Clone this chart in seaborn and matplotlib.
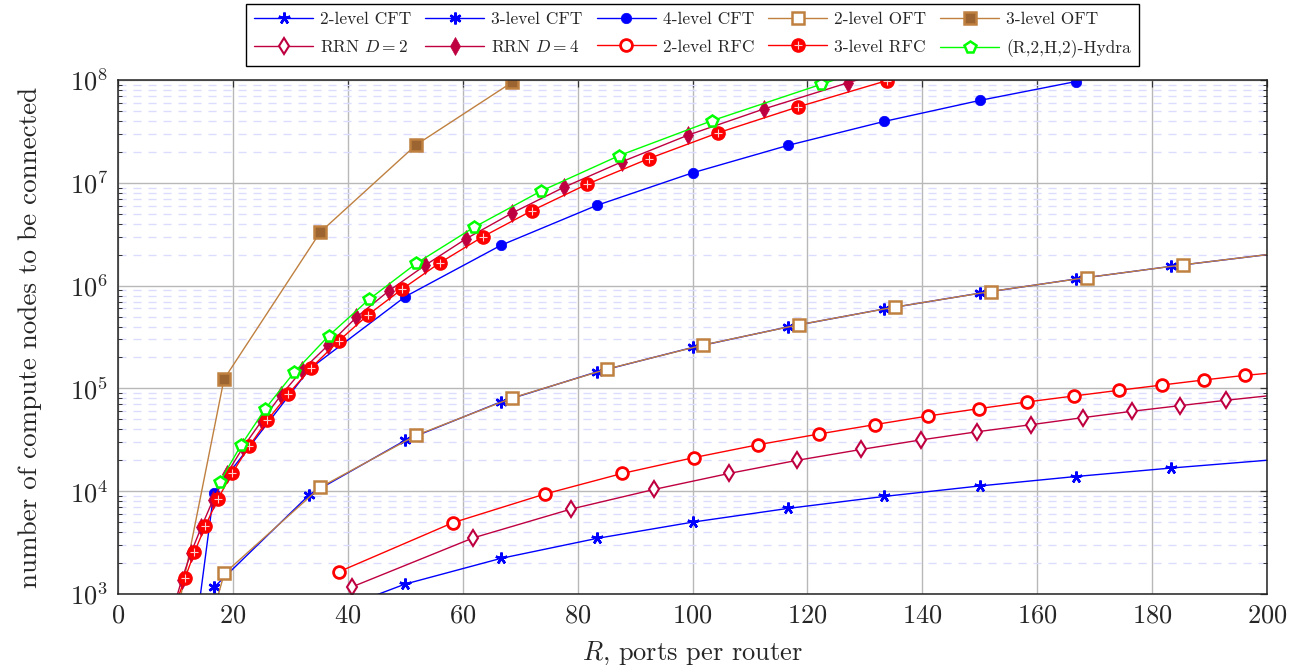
import numpy as np
import seaborn as sns
import pandas as pd
import matplotlib.pyplot as plt
from matplotlib.ticker import LogLocator, NullFormatter, MultipleLocator

# network size vs router radix, pgfplots look-alike
sns.set_style('white')
plt.rcParams['font.family'] = 'serif'
plt.rcParams['font.serif'] = ['cmr10']
plt.rcParams['mathtext.fontset'] = 'cm'
plt.rcParams['axes.formatter.use_mathtext'] = True

# ---- data (R = ports per router, N = compute nodes) ----
cft2_R = [33.33, 50.0, 66.67, 83.33, 100.0, 116.67, 133.33, 150.0, 166.67, 183.33, 200.0]
cft2_N = [556, 1250, 2222, 3472, 5000, 6806, 8889, 11250, 13889, 16806, 20000]
cft2_marks = list(range(0, 10))

cft3_R = [16.67, 33.33, 50.0, 66.67, 83.33, 100.0, 116.67, 133.33, 150.0, 166.67, 183.33, 200.0]
cft3_N = [1157, 9259, 31250, 74074, 144676, 250000, 396990, 592593, 843750, 1157407, 1540509, 2000000]
cft3_marks = list(range(0, 11))

cft4_R = [14.0, 16.67, 33.33, 50.0, 66.67, 83.33, 100.0, 116.67, 133.33, 150.0, 166.67]
cft4_N = [700, 9645, 154321, 781250, 2469136, 6028164, 12500000, 23158000, 39500000, 63281000, 96450000]
cft4_marks = list(range(1, 11))

oft2_R = [17.0, 18.5, 35.2, 51.9, 68.6, 85.2, 101.9, 118.5, 135.2, 151.9, 168.6, 185.3, 200.0]
oft2_N = [800, 1583, 10900, 34950, 80700, 154600, 264500, 416000, 617800, 876200, 1198000, 1591000, 2000000]
oft2_marks = list(range(1, 12))

oft3_R = [10.0, 18.45, 35.2, 51.9, 68.6]
oft3_N = [525, 123000, 3310000, 23400000, 95000000]
oft3_marks = list(range(1, 5))

rrn2_R = [40.7, 61.8, 78.9, 93.3, 106.4, 118.2, 129.4, 139.7, 149.6, 159.0, 167.9, 176.5, 184.8, 192.8, 200.0]
rrn2_N = [1170, 3510, 6710, 10400, 14900, 19960, 25500, 31500, 37900, 44400, 51900, 59900, 67900, 76600, 84500]
rrn2_marks = list(range(0, 14))

rrn4_R = [9.8, 11.1, 12.7, 14.5, 16.5, 18.95, 21.8, 25.0, 28.4, 32.1, 36.6, 41.5, 47.1, 53.5, 60.6,
          68.6, 77.6, 87.7, 99.3, 112.4, 127.1, 143.0]
rrn4_N = [780, 1380, 2510, 4470, 8130, 14800, 26900, 48200, 86300, 151000, 264000, 492000, 885000,
          1580000, 2860000, 5080000, 9040000, 16000000, 29200000, 52200000, 94200000, 175000000]
rrn4_marks = list(range(1, 21))

rfc2_R = [38.5, 58.3, 74.3, 87.8, 100.2, 111.4, 122.0, 131.7, 141.0, 149.8, 158.2, 166.4, 174.2,
          181.8, 189.1, 196.2, 200.0]
rfc2_N = [1650, 4940, 9390, 14900, 21200, 28300, 36000, 44400, 53900, 63500, 73800, 84400, 95800,
          108000, 121000, 134000, 140000]
rfc2_marks = list(range(0, 16))

rfc3_R = [10.0, 11.66, 13.3, 15.2, 17.35, 19.9, 22.85, 26.0, 29.65, 33.65, 38.4, 43.5, 49.4, 56.05,
          63.5, 72.05, 81.6, 92.4, 104.5, 118.3, 133.8]
rfc3_N = [790, 1420, 2550, 4580, 8340, 15100, 27500, 49000, 88200, 159000, 289000, 518000, 920000,
          1670000, 2990000, 5360000, 9660000, 17200000, 30700000, 54600000, 98500000]
rfc3_marks = list(range(1, 21))

hyd_R = [17.75, 21.4, 25.65, 30.7, 36.7, 43.7, 51.95, 61.95, 73.55, 87.25, 103.4, 122.4, 135.0]
hyd_N = [12400, 27900, 63500, 144000, 326000, 735000, 1650000, 3690000, 8270000, 18400000,
         40200000, 90800000, 155000000]
hyd_marks = list(range(0, 12))

BLUE = '#0000ff'
BROWN = '#bf8040'
DBROWN = '#9c6430'
CRIM = '#bf0040'
RED = '#ff0000'
GREEN = '#00ff00'

fig = plt.figure(figsize=(12.98, 6.65), dpi=100)
ax = fig.add_axes([118/1298, 71/665, 1149/1298, 514/665])


def curve(R, N, marks, color, marker, label, ms=8, mfc=None, mew=1.5):
    F = pd.DataFrame({'R': R, 'N': N})
    sns.lineplot(data=F, x='R', y='N', ax=ax, color=color, lw=1.0, marker=marker,
                 markevery=marks, ms=ms, markerfacecolor=color if mfc is None else mfc,
                 markeredgecolor=color, markeredgewidth=mew, label=label, legend=False)
    return ax.lines[-1]


h = {}
h['cft2'] = curve(cft2_R, cft2_N, cft2_marks, BLUE, (5, 2, 0), '2-level CFT', ms=8.5, mew=1.8)
h['cft3'] = curve(cft3_R, cft3_N, cft3_marks, BLUE, (6, 2, 0), '3-level CFT', ms=8.5, mew=1.8)
h['cft4'] = curve(cft4_R, cft4_N, cft4_marks, BLUE, 'o', '4-level CFT', ms=7.5, mew=0.5)
h['oft2'] = curve(oft2_R, oft2_N, oft2_marks, BROWN, 's', '2-level OFT', ms=8.5, mfc='white', mew=1.8)
h['oft3'] = curve(oft3_R, oft3_N, oft3_marks, BROWN, 's', '3-level OFT', ms=8.5, mfc=DBROWN, mew=1.8)
h['rrn2'] = curve(rrn2_R, rrn2_N, rrn2_marks, CRIM, 'd', 'RRN $D=2$', ms=8, mfc='white', mew=1.5)
h['rrn4'] = curve(rrn4_R, rrn4_N, rrn4_marks, CRIM, 'd', 'RRN $D=4$', ms=9, mew=0.5)
h['rfc2'] = curve(rfc2_R, rfc2_N, rfc2_marks, RED, 'o', '2-level RFC', ms=8.5, mfc='white', mew=2)
h['rfc3'] = curve(rfc3_R, rfc3_N, rfc3_marks, RED, 'o', '3-level RFC', ms=9.5, mew=1)
# light cross inside the filled red circles (oplus mark)
plus = ax.plot([rfc3_R[i] for i in rfc3_marks], [rfc3_N[i] for i in rfc3_marks], ls='none',
               marker='+', ms=6, mew=0.8, color='#ffd0d0')[0]
h['hyd'] = curve(hyd_R, hyd_N, hyd_marks, GREEN, 'p', '(R,2,H,2)-Hydra', ms=8.5, mfc='white', mew=1.8)

ax.set_yscale('log')
ax.set_xlim(0, 200)
ax.set_ylim(1e3, 1e8)
ax.xaxis.set_major_locator(MultipleLocator(20))
ax.yaxis.set_major_locator(LogLocator(base=10, numticks=10))
ax.yaxis.set_minor_locator(LogLocator(base=10, subs=np.arange(2, 10), numticks=20))
ax.yaxis.set_minor_formatter(NullFormatter())

ax.grid(which='major', color='#b8b8b8', lw=1.0, ls='-')
ax.yaxis.grid(which='minor', color='#dcdcff', lw=1.0, ls=(0, (5.8, 5)))
ax.set_axisbelow(True)

ax.tick_params(which='major', direction='in', length=5, width=0.9, top=True, right=True,
               labelsize=19, pad=7, color='#333333')
ax.tick_params(which='minor', direction='in', length=3, width=0.7, top=False, right=True,
               left=True, color='#333333')
for s in ax.spines.values():
    s.set_color('#222222')
    s.set_linewidth(1.1)

ax.set_xlabel('$R$, ports per router', fontsize=19, labelpad=9)
ax.set_ylabel('number of compute nodes to be connected', fontsize=19.5, labelpad=20)

order = ['cft2', 'rrn2', 'cft3', 'rrn4', 'cft4', 'rfc2', 'oft2', 'rfc3', 'oft3', 'hyd']
names = {'cft2': '2-level CFT', 'cft3': '3-level CFT', 'cft4': '4-level CFT',
         'oft2': '2-level OFT', 'oft3': '3-level OFT', 'rrn2': 'RRN $D=2$',
         'rrn4': 'RRN $D=4$', 'rfc2': '2-level RFC', 'rfc3': '3-level RFC',
         'hyd': '(R,2,H,2)-Hydra'}
handles = [(h[k], plus) if k == 'rfc3' else h[k] for k in order]
leg = ax.legend(handles, [names[k] for k in order], ncol=5, loc='upper center',
                bbox_to_anchor=(0.5, 1.148), frameon=True, fancybox=False, framealpha=1,
                edgecolor='black', fontsize=12.5, handlelength=3.4, handletextpad=0.4,
                columnspacing=0.8, labelspacing=0.7, borderpad=0.45, borderaxespad=0,
                numpoints=1)
leg.get_frame().set_linewidth(1.0)

fig.savefig('out.png', dpi=100)
